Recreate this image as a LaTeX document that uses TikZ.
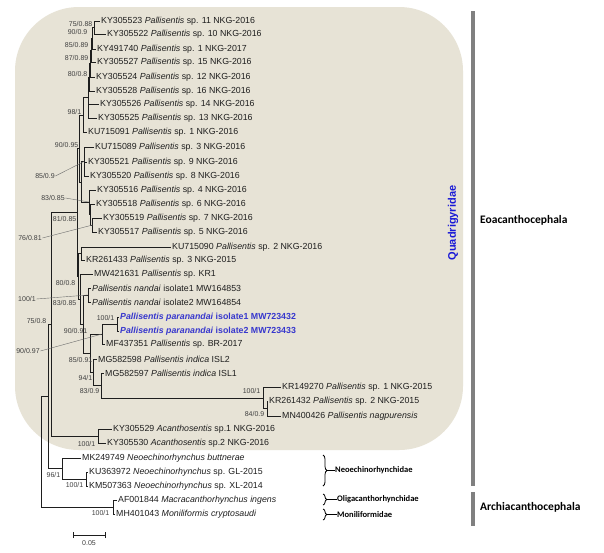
\documentclass[tikz,border=0pt]{standalone}
\usepackage{fontspec}
\setmainfont{Liberation Sans}
\newfontfamily\calb{Carlito}
\usetikzlibrary{decorations.pathreplacing,calc}
\definecolor{boxbg}{RGB}{231,227,214}
\definecolor{barc}{RGB}{128,128,128}
\definecolor{quad}{RGB}{25,25,215}
\definecolor{parac}{RGB}{55,55,205}
\definecolor{ink}{RGB}{30,30,30}
\tikzset{
 tip/.style={anchor=west, inner sep=1pt, font=\fontsize{8.8}{10}\selectfont, text=ink},
 bs/.style={anchor=east, inner sep=0.5pt, font=\fontsize{7}{8}\selectfont, text=ink!85},
 bsc/.style={anchor=center, inner sep=0.5pt, font=\fontsize{7}{8}\selectfont, text=ink!85},
 br/.style={draw=ink, line width=1pt},
 lead/.style={draw=ink!65, line width=0.4pt},
 fam/.style={anchor=west, inner sep=0pt, font=\calb\bfseries\fontsize{8.5}{10}\selectfont},
 grp/.style={anchor=west, inner sep=0pt, font=\calb\bfseries\fontsize{11.5}{13}\selectfont},
 brc/.style={draw=black, line width=0.8pt, decorate, decoration={brace, amplitude=4pt}},
}
\begin{document}
\begin{tikzpicture}[x=1pt,y=-1pt]
\useasboundingbox (0,0) rectangle (604,552);
\fill[white] (0,0) rectangle (604,552);
\fill[boxbg, rounded corners=64pt] (15,7) rectangle (463,450);
% internal nodes
\coordinate (n1) at (94,27.5);
\coordinate (n2) at (92,38);
\coordinate (n3) at (91,50);
\coordinate (n4) at (90,63.5);
\coordinate (n5) at (89.5,77);
\coordinate (n6) at (88.5,97.5);
\coordinate (n7) at (83,115);
\coordinate (g2) at (84,161.5);
\coordinate (g3c) at (92.5,225);
\coordinate (g3b) at (90.5,214.5);
\coordinate (g3) at (89,202);
\coordinate (g23) at (81,182);
\coordinate (U) at (79.5,148.5);
\coordinate (a) at (81,253.5);
\coordinate (nan) at (88,295);
\coordinate (par) at (117,324);
\coordinate (px) at (102,334);
\coordinate (krb) at (267,408.5);
\coordinate (krn) at (263,398);
\coordinate (i3) at (101,385.5);
\coordinate (i2) at (93,372);
\coordinate (j) at (90,353);
\coordinate (k) at (83,324);
\coordinate (l) at (80,299);
\coordinate (m) at (78,276);
\coordinate (C) at (77,212);
\coordinate (acn) at (98,436);
\coordinate (A) at (51,324);
\coordinate (neo2) at (86,479);
\coordinate (neo) at (62,468.5);
\coordinate (B) at (48,396);
\coordinate (arc) at (113,507);
\coordinate (R) at (41,451.5);
% tips
\node[tip] (t01) at (100,21) {KY305523 \textit{Pallisentis} sp. 11 NKG-2016};
\node[tip] (t02) at (106,34) {KY305522 \textit{Pallisentis} sp. 10 NKG-2016};
\node[tip] (t03) at (96,49) {KY491740 \textit{Pallisentis} sp. 1 NKG-2017};
\node[tip] (t04) at (96,62) {KY305527 \textit{Pallisentis} sp. 15 NKG-2016};
\node[tip] (t05) at (95,77) {KY305524 \textit{Pallisentis} sp. 12 NKG-2016};
\node[tip] (t06) at (95,91) {KY305528 \textit{Pallisentis} sp. 16 NKG-2016};
\node[tip] (t07) at (99,104) {KY305526 \textit{Pallisentis} sp. 14 NKG-2016};
\node[tip] (t08) at (97,118) {KY305525 \textit{Pallisentis} sp. 13 NKG-2016};
\node[tip] (t09) at (87,132) {KU715091 \textit{Pallisentis} sp. 1 NKG-2016};
\node[tip] (t10) at (94,147) {KU715089 \textit{Pallisentis} sp. 3 NKG-2016};
\node[tip] (t11) at (87,162) {KY305521 \textit{Pallisentis} sp. 9 NKG-2016};
\node[tip] (t12) at (89,176) {KY305520 \textit{Pallisentis} sp. 8 NKG-2016};
\node[tip] (t13) at (96,190) {KY305516 \textit{Pallisentis} sp. 4 NKG-2016};
\node[tip] (t14) at (95,204) {KY305518 \textit{Pallisentis} sp. 6 NKG-2016};
\node[tip] (t15) at (102,218) {KY305519 \textit{Pallisentis} sp. 7 NKG-2016};
\node[tip] (t16) at (97,232) {KY305517 \textit{Pallisentis} sp. 5 NKG-2016};
\node[tip] (t17) at (171,247) {KU715090 \textit{Pallisentis} sp. 2 NKG-2016};
\node[tip] (t18) at (85,260) {KR261433 \textit{Pallisentis} sp. 3 NKG-2015};
\node[tip] (t19) at (93,274) {MW421631 \textit{Pallisentis} sp. KR1};
\node[tip] (t20) at (91,288) {\textit{Pallisentis nandai} isolate1 MW164853};
\node[tip] (t21) at (91,302) {\textit{Pallisentis nandai} isolate2 MW164854};
\node[tip, text=parac, font=\bfseries\fontsize{8.8}{10}\selectfont] (t22) at (119,317) {\textit{Pallisentis paranandai} isolate1 MW723432};
\node[tip, text=parac, font=\bfseries\fontsize{8.8}{10}\selectfont] (t23) at (119,331) {\textit{Pallisentis paranandai} isolate2 MW723433};
\node[tip] (t24) at (105,344) {MF437351 \textit{Pallisentis} sp. BR-2017};
\node[tip] (t25) at (97,359) {MG582598 \textit{Pallisentis indica} ISL2};
\node[tip] (t26) at (104,373) {MG582597 \textit{Pallisentis indica} ISL1};
\node[tip] (t27) at (281,387) {KR149270 \textit{Pallisentis} sp. 1 NKG-2015};
\node[tip] (t28) at (268,401) {KR261432 \textit{Pallisentis} sp. 2 NKG-2015};
\node[tip] (t29) at (281,416) {MN400426 \textit{Pallisentis nagpurensis}};
\node[tip] (t30) at (112,429) {KY305529 \textit{Acanthosentis} sp.1 NKG-2016};
\node[tip] (t31) at (106,443) {KY305530 \textit{Acanthosentis} sp.2 NKG-2016};
\node[tip] (t32) at (81,458) {MK249749 \textit{Neoechinorhynchus buttnerae}};
\node[tip] (t33) at (88,472) {KU363972 \textit{Neoechinorhynchus} sp. GL-2015};
\node[tip] (t34) at (88,486) {KM507363 \textit{Neoechinorhynchus} sp. XL-2014};
\node[tip] (t35) at (117,500) {AF001844 \textit{Macracanthorhynchus ingens}};
\node[tip] (t36) at (115,514) {MH401043 \textit{Moniliformis cryptosaudi}};
% branches to tips
\foreach \p/\c in {n1/t01,n1/t02,n2/t03,n3/t04,n4/t05,n5/t06,n6/t07,n6/t08,n7/t09,
  g2/t10,g2/t11,g2/t12,g3/t13,g3b/t14,g3c/t15,g3c/t16,a/t17,a/t18,l/t19,nan/t20,nan/t21,
  par/t22,par/t23,px/t24,i2/t25,i3/t26,krn/t27,krb/t28,krb/t29,acn/t30,acn/t31,
  neo/t32,neo2/t33,neo2/t34,arc/t35,arc/t36}
  \draw[br] (\p) |- (\c.west);
% internal branches
\foreach \p/\c in {n2/n1,n3/n2,n4/n3,n5/n4,n6/n5,n7/n6,g3b/g3c,g3/g3b,g23/g2,g23/g3,
  U/n7,U/g23,px/par,krn/krb,i3/krn,i2/i3,j/px,j/i2,k/nan,k/j,l/k,m/a,m/l,C/U,C/m,
  A/C,A/acn,neo/neo2,B/A,B/neo,R/B,R/arc}
  \draw[br] (\p) |- (\c);
% support values
\node[bs] (b01) at (93,24) {75/0.88};
\node[bs] (b02) at (88,32) {90/0.9};
\node[bs] (b03) at (89,45) {85/0.89};
\node[bs] (b04) at (89,58) {87/0.89};
\node[bs] (b05) at (88,74) {80/0.8};
\node[bs] (b06) at (82,112) {98/1};
\node[bs] (b07) at (79,145) {90/0.95};
\node[bsc] (b08) at (45,176) {85/0.9};
\node[bsc] (b09) at (53,198) {83/0.85};
\node[bs] (b10) at (77,219) {81/0.85};
\node[bsc] (b11) at (30,238) {76/0.81};
\node[bs] (b12) at (76,283) {80/0.8};
\node[bsc] (b13) at (27,299) {100/1};
\node[bs] (b14) at (77,303) {83/0.85};
\node[bs] (b15) at (47,321) {75/0.8};
\node[bs] (b16) at (115,318) {100/1};
\node[bs] (b17) at (88,331) {90/0.91};
\node[bsc] (b18) at (28,351) {90/0.97};
\node[bs] (b19) at (93,360) {85/0.91};
\node[bs] (b20) at (93,378) {94/1};
\node[bs] (b21) at (100,391) {83/0.9};
\node[bs] (b22) at (261,391) {100/1};
\node[bs] (b23) at (265,414) {84/0.9};
\node[bs] (b24) at (96,444) {100/1};
\node[bs] (b25) at (61,475) {96/1};
\node[bs] (b26) at (84,485) {100/1};
\node[bs] (b27) at (110,513) {100/1};
\draw[lead] (b08.east) -- (g2);
\draw[lead] (b09.east) -- (g3);
\draw[lead] (b11.east) -- (g3c);
\draw[lead] (b13.east) -- (nan);
\draw[lead] (b18.east) -- (px);
% scale bar
\coordinate (s1) at (73,535);
\coordinate (s2) at (105,535);
\draw[br, line width=0.8pt] (s1) -- (s2);
\draw[br, line width=0.8pt] ([yshift=-3pt]s1) -- ([yshift=3pt]s1);
\draw[br, line width=0.8pt] ([yshift=-3pt]s2) -- ([yshift=3pt]s2);
\node[bsc] (sl) at (89,543) {0.05};
% clade annotations
\node[rotate=90, inner sep=0pt, text=quad, font=\bfseries\fontsize{11}{12}\selectfont] (q) at (453,223) {Quadrigyridae};
\fill[barc] (471,11) rectangle (475,486);
\fill[barc] (471,492) rectangle (475,526);
\node[grp] (eo) at (480,220) {Eoacanthocephala};
\node[grp] (ar) at (480,507) {Archiacanthocephala};
\coordinate (c1a) at (323,455); \coordinate (c1b) at (323,486);
\coordinate (c2a) at (323,494); \coordinate (c2b) at (323,505);
\coordinate (c3a) at (323,509); \coordinate (c3b) at (323,520);
\draw[brc] (c1a) -- (c1b);
\draw[brc] (c2a) -- (c2b);
\draw[brc] (c3a) -- (c3b);
\node[fam] (f1) at (335,470.5) {Neoechinorhynchidae};
\node[fam] (f2) at (337,499.5) {Oligacanthorhynchidae};
\node[fam] (f3) at (337,514.5) {Moniliformidae};
\draw[line width=0.7pt] ([xshift=4pt]$(c1a)!0.5!(c1b)$) -- (f1.west);
\draw[line width=0.7pt] ([xshift=4pt]$(c2a)!0.5!(c2b)$) -- (f2.west);
\draw[line width=0.7pt] ([xshift=4pt]$(c3a)!0.5!(c3b)$) -- (f3.west);
\end{tikzpicture}
\end{document}
